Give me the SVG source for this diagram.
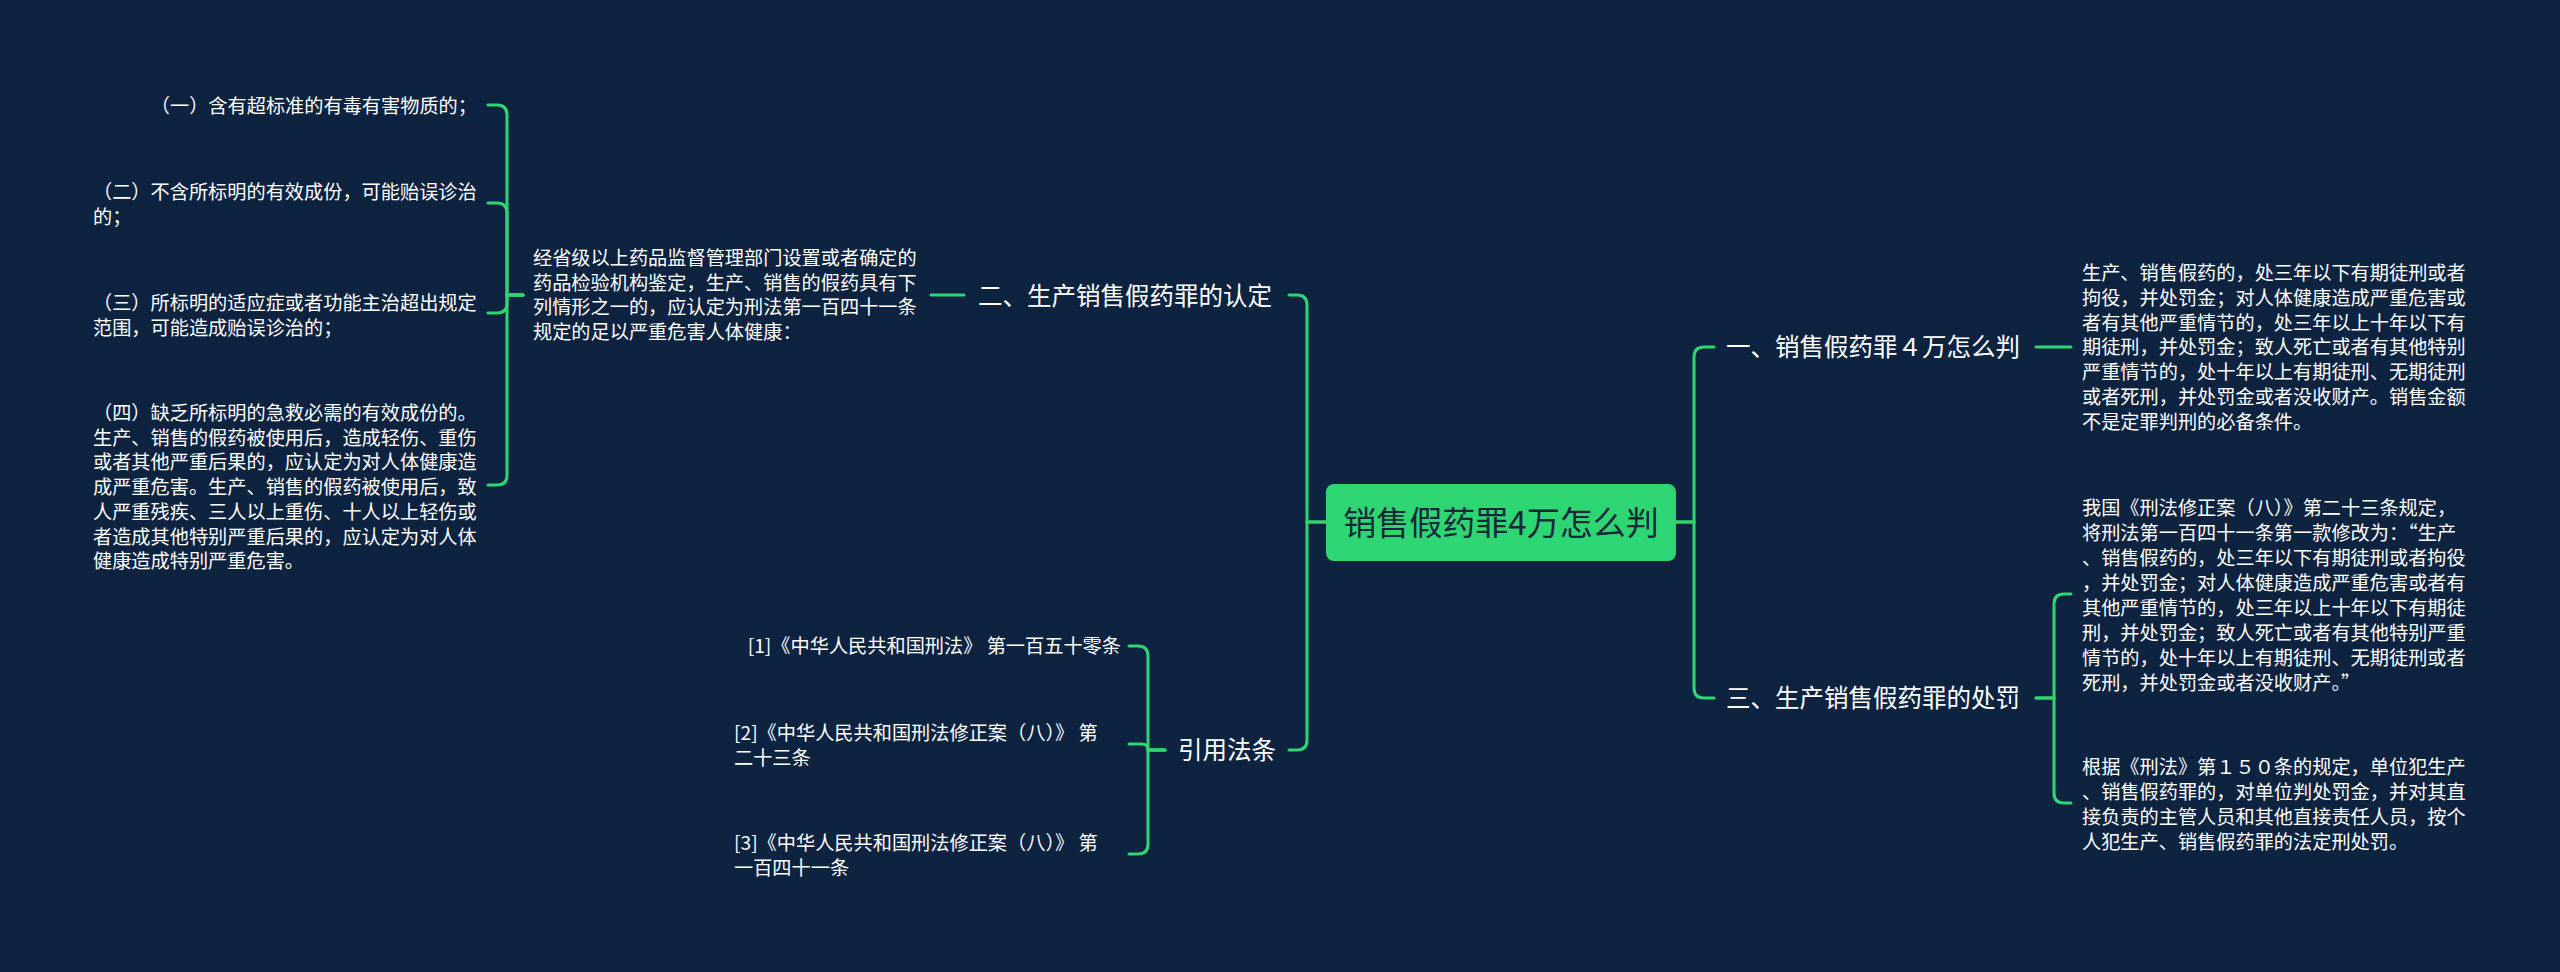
<svg xmlns="http://www.w3.org/2000/svg" width="2560" height="972" viewBox="0 0 2560 972">
<style>
.bg{fill:#0e233f}
.ln{fill:none;stroke:#2ed573;stroke-width:3;stroke-linecap:round}
text{font-family:"Noto Sans CJK SC","Liberation Sans",sans-serif;fill:#ffffff}
.s{font-size:19.2px}
.m{font-size:24.5px}
.r{font-size:33px;fill:#17283a}
</style>
<rect class="bg" x="0" y="0" width="2560" height="972"/>
<g id="connectors">
<path class="ln" d="M1326 522 H1307 V305 Q1307 295 1297 295 H1289"/>
<path class="ln" d="M1326 522 H1307 V740 Q1307 750 1297 750 H1289"/>
<path class="ln" d="M1676 522 H1694 V357 Q1694 347 1704 347 H1714"/>
<path class="ln" d="M1676 522 H1694 V688 Q1694 698 1704 698 H1714"/>
<path class="ln" d="M964 295 H931"/>
<path class="ln" d="M523 295 H507 V115 Q507 105 497 105 H488"/>
<path class="ln" d="M523 295 H507 V213 Q507 203 497 203 H488"/>
<path class="ln" d="M523 295 H507 V303 Q507 313 497 313 H488"/>
<path class="ln" d="M523 295 H507 V475 Q507 485 497 485 H488"/>
<path class="ln" d="M1165 750 H1148 V656 Q1148 646 1138 646 H1129"/>
<path class="ln" d="M1165 750 H1148 Q1148 744 1142 744 H1129"/>
<path class="ln" d="M1165 750 H1148 V844 Q1148 854 1138 854 H1129"/>
<path class="ln" d="M2036 347 H2071"/>
<path class="ln" d="M2036 698 H2054 V604 Q2054 594 2064 594 H2071"/>
<path class="ln" d="M2036 698 H2054 V793 Q2054 803 2064 803 H2071"/>
</g>
<g id="root">
<rect x="1326" y="484" width="350" height="77" rx="8" fill="#2ed573"/>
<text class="r" x="1501" y="535" text-anchor="middle">销售假药罪4万怎么判</text>
</g>
<g id="n2">
<text class="m" x="978" y="305">二、生产销售假药罪的认定</text>
</g>
<g id="n2a">
<text class="s" x="533"><tspan x="533" y="265">经省级以上药品监督管理部门设置或者确定的</tspan><tspan x="533" y="290">药品检验机构鉴定，生产、销售的假药具有下</tspan><tspan x="533" y="314">列情形之一的，应认定为刑法第一百四十一条</tspan><tspan x="533" y="339">规定的足以严重危害人体健康：</tspan></text>
</g>
<g id="i1">
<text class="s" x="477" y="113" text-anchor="end">（一）含有超标准的有毒有害物质的；</text>
</g>
<g id="i2">
<text class="s"><tspan x="93" y="199">（二）不含所标明的有效成份，可能贻误诊治</tspan><tspan x="93" y="224">的；</tspan></text>
</g>
<g id="i3">
<text class="s"><tspan x="93" y="310">（三）所标明的适应症或者功能主治超出规定</tspan><tspan x="93" y="335">范围，可能造成贻误诊治的；</tspan></text>
</g>
<g id="i4">
<text class="s"><tspan x="93" y="420">（四）缺乏所标明的急救必需的有效成份的。</tspan><tspan x="93" y="445">生产、销售的假药被使用后，造成轻伤、重伤</tspan><tspan x="93" y="469">或者其他严重后果的，应认定为对人体健康造</tspan><tspan x="93" y="494">成严重危害。生产、销售的假药被使用后，致</tspan><tspan x="93" y="519">人严重残疾、三人以上重伤、十人以上轻伤或</tspan><tspan x="93" y="544">者造成其他特别严重后果的，应认定为对人体</tspan><tspan x="93" y="568">健康造成特别严重危害。</tspan></text>
</g>
<g id="n4">
<text class="m" x="1178" y="759">引用法条</text>
</g>
<g id="c1">
<text class="s" x="1121" y="653" text-anchor="end">[1]《中华人民共和国刑法》 第一百五十零条</text>
</g>
<g id="c2">
<text class="s"><tspan x="734" y="740">[2]《中华人民共和国刑法修正案（八）》 第</tspan><tspan x="734" y="765">二十三条</tspan></text>
</g>
<g id="c3">
<text class="s"><tspan x="734" y="850">[3]《中华人民共和国刑法修正案（八）》 第</tspan><tspan x="734" y="875">一百四十一条</tspan></text>
</g>
<g id="n1">
<text class="m" x="1726" y="356">一、销售假药罪４万怎么判</text>
</g>
<g id="n1a">
<text class="s"><tspan x="2082" y="280">生产、销售假药的，处三年以下有期徒刑或者</tspan><tspan x="2082" y="305">拘役，并处罚金；对人体健康造成严重危害或</tspan><tspan x="2082" y="330">者有其他严重情节的，处三年以上十年以下有</tspan><tspan x="2082" y="354">期徒刑，并处罚金；致人死亡或者有其他特别</tspan><tspan x="2082" y="379">严重情节的，处十年以上有期徒刑、无期徒刑</tspan><tspan x="2082" y="404">或者死刑，并处罚金或者没收财产。销售金额</tspan><tspan x="2082" y="429">不是定罪判刑的必备条件。</tspan></text>
</g>
<g id="n3">
<text class="m" x="1726" y="707">三、生产销售假药罪的处罚</text>
</g>
<g id="n3a">
<text class="s"><tspan x="2082" y="515">我国《刑法修正案（八）》第二十三条规定，</tspan><tspan x="2082" y="540">将刑法第一百四十一条第一款修改为：“生产</tspan><tspan x="2082" y="565">、销售假药的，处三年以下有期徒刑或者拘役</tspan><tspan x="2082" y="590">，并处罚金；对人体健康造成严重危害或者有</tspan><tspan x="2082" y="615">其他严重情节的，处三年以上十年以下有期徒</tspan><tspan x="2082" y="640">刑，并处罚金；致人死亡或者有其他特别严重</tspan><tspan x="2082" y="665">情节的，处十年以上有期徒刑、无期徒刑或者</tspan><tspan x="2082" y="690">死刑，并处罚金或者没收财产。”</tspan></text>
</g>
<g id="n3b">
<text class="s"><tspan x="2082" y="774">根据《刑法》第１５０条的规定，单位犯生产</tspan><tspan x="2082" y="799">、销售假药罪的，对单位判处罚金，并对其直</tspan><tspan x="2082" y="824">接负责的主管人员和其他直接责任人员，按个</tspan><tspan x="2082" y="849">人犯生产、销售假药罪的法定刑处罚。</tspan></text>
</g>
</svg>
